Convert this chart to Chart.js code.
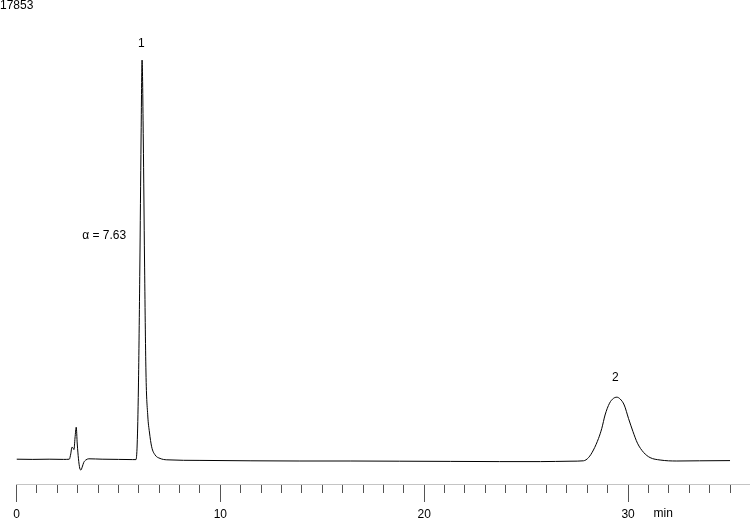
<!DOCTYPE html>
<html lang="en">
<head>
  <meta charset="UTF-8">
  <title>Chromatogram 17853</title>
  <script src="https://cdn.jsdelivr.net/npm/chart.js"></script>
  <style>
    html, body {
      margin: 0;
      padding: 0;
      background: #fff;
    }
    .chart-box {
      position: relative;
      width: 750px;
      height: 518px;
    }
  </style>
</head>
<body>

<div class="chart-box">
  <canvas id="chromChart"></canvas>
</div>

<script>
  // retention time (min) and detector signal
  const times = [
    0, 0.8, 1.6, 2.3, 2.59, 2.66, 2.72, 2.77, 2.82, 2.87, 2.93, 2.98, 3.04, 3.10, 3.16, 3.22, 3.30, 3.40, 3.55,
    4.2, 5.0, 5.7, 5.86, 5.92, 5.98, 6.05, 6.11, 6.16, 6.22, 6.28, 6.35, 6.44, 6.52, 6.63, 6.80, 7.04, 7.37,
    9.0, 11.5, 13.9, 16.4, 18.8, 21.3, 23.7, 25.7, 27.2,
    27.81, 28.06, 28.30, 28.55, 28.71, 28.87, 29.09, 29.28, 29.45, 29.61, 29.81, 30.02, 30.24, 30.46, 30.76, 31.08, 31.57, 32.39,
    33.5, 35.0
  ];
  const signal = [
    0.2, 0.15, 0.2, 0.15, 0.2, 1.5, 3.2, 3.0, 2.6, 5.5, 8.2, 4.0, 0.3, -2.0, -2.5, -1.8, -0.6, 0.0, 0.3,
    0.2, 0.15, 0.1, 0.1, 4, 18, 48, 80, 100, 80, 50, 22, 11, 7, 3.3, 1.25, 0.4, 0.05,
    -0.1, -0.2, -0.25, -0.25, -0.3, -0.35, -0.4, -0.4, -0.3,
    -0.2, 0.6, 2.5, 5.4, 7.9, 11.25, 14.2, 15.4, 15.7, 15.25, 13.75, 10.4, 7.1, 4.2, 1.9, 0.6, 0.0, -0.25,
    -0.2, -0.15
  ];

  const majorTickStep = 10;
  const minorTickStep = 1;

  const peakLabels = ['1', '2'];
  const peakLabelTimes = [6.12, 29.37];
  const peakLabelLevels = [104.2, 20.6];

  const alphaText = 'α = 7.63';
  const alphaTime = 4.3;
  const alphaLevel = 56;

  const runTitle = '17853';
  const unitText = 'min';
  const unitTime = 31.72;

  const axisLevel = -6;
  const fontStack = '"Liberation Sans", Arial, Helvetica, sans-serif';

  const points = times.map((t, i) => ({ x: t, y: signal[i] }));

  const textPlugin = {
    id: 'chromText',
    afterDraw(chart) {
      const ctx = chart.ctx;
      const xs = chart.scales.x;
      const ys = chart.scales.y;
      ctx.save();
      ctx.fillStyle = '#000';
      ctx.font = '12px ' + fontStack;
      ctx.textAlign = 'center';
      ctx.textBaseline = 'middle';
      peakLabels.forEach((lbl, i) => {
        ctx.fillText(lbl, xs.getPixelForValue(peakLabelTimes[i]), ys.getPixelForValue(peakLabelLevels[i]));
      });
      ctx.fillText(alphaText, xs.getPixelForValue(alphaTime), ys.getPixelForValue(alphaLevel));
      ctx.fillText(unitText, xs.getPixelForValue(unitTime), ys.getPixelForValue(axisLevel) + 30);
      ctx.textAlign = 'left';
      ctx.fillText(runTitle, 0, 6);
      ctx.restore();
    }
  };

  new Chart(document.getElementById('chromChart').getContext('2d'), {
    type: 'line',
    data: {
      datasets: [{
        label: 'Signal',
        data: points,
        borderColor: '#000',
        borderWidth: 1,
        pointRadius: 0,
        fill: false,
        cubicInterpolationMode: 'monotone'
      }]
    },
    options: {
      responsive: true,
      maintainAspectRatio: false,
      animation: false,
      layout: {
        padding: { left: 16.5, right: 0, top: 0, bottom: 0 }
      },
      plugins: {
        legend: { display: false },
        tooltip: { enabled: false }
      },
      scales: {
        y: {
          display: false,
          min: -14.5,
          max: 115
        },
        x: {
          type: 'linear',
          position: { y: axisLevel },
          min: 0,
          max: 35.98,
          border: {
            display: true,
            color: '#c4c4c4',
            width: 1
          },
          grid: {
            drawOnChartArea: false,
            drawTicks: true,
            tickLength: 17,
            tickColor: '#555'
          },
          ticks: {
            stepSize: majorTickStep,
            includeBounds: false,
            autoSkip: false,
            maxRotation: 0,
            padding: 6,
            color: '#000',
            font: { family: fontStack, size: 12 }
          }
        },
        x2: {
          type: 'linear',
          axis: 'x',
          position: { y: axisLevel },
          min: 0,
          max: 35.98,
          border: { display: false },
          grid: {
            drawOnChartArea: false,
            drawTicks: true,
            tickLength: 9,
            tickColor: '#555'
          },
          ticks: {
            stepSize: minorTickStep,
            includeBounds: false,
            autoSkip: false,
            display: false
          }
        }
      }
    },
    plugins: [textPlugin]
  });
</script>

</body>
</html>
